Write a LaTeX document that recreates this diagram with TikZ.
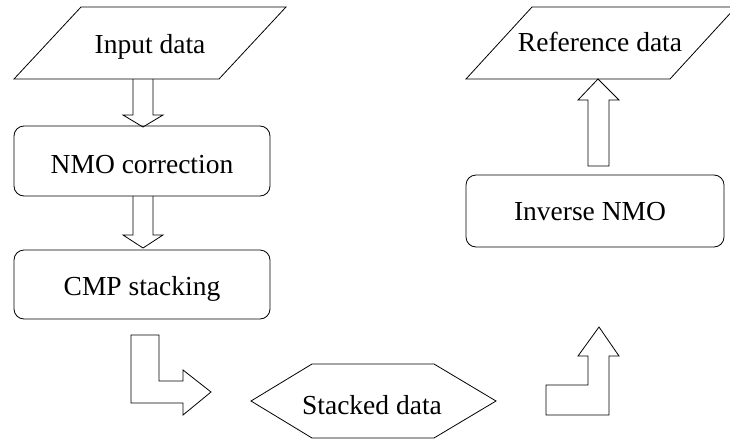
\documentclass[tikz,border=0pt]{standalone}
\usepackage{fontspec}
\setmainfont{Liberation Serif}
\begin{document}
\begin{tikzpicture}[x=1pt,y=-1pt,
  shapeline/.style={draw=black,line width=0.8pt,line join=miter},
  boxline/.style={shapeline,rounded corners=10pt},
  lbl/.style={anchor=base,inner sep=0pt,font=\fontsize{27.5}{30}\selectfont}]
\useasboundingbox (0,0) rectangle (730,439);
\begin{scope}
\clip (0,0) rectangle (730,439);
% Input data parallelogram
\draw[shapeline] (14,79) -- (219,79) -- (286,7) -- (81,7) -- cycle;
\node[lbl] (inp) at (150,53) {Input data};
% NMO correction
\draw[boxline] (14,126) rectangle (270,196);
\node[lbl] (nmo) at (142,173) {NMO correction};
% CMP stacking
\draw[boxline] (14,250) rectangle (270,319);
\node[lbl] (cmp) at (142,295) {CMP stacking};
% Arrow 1
\draw[shapeline] (133,79) -- (133,115) -- (123,115) -- (143,127) -- (163,115) -- (153,115) -- (153,79);
% Arrow 2
\draw[shapeline] (133,196) -- (133,235) -- (123,235) -- (143,248) -- (163,235) -- (153,235) -- (153,196);
% L arrow (down then right)
\draw[shapeline] (131,335) -- (159,335) -- (159,381) -- (183,381) -- (183,370) -- (211,392) -- (183,415) -- (183,403) -- (131,403) -- cycle;
% Stacked data hexagon
\draw[shapeline] (251,401) -- (312,364) -- (434,364) -- (496,401) -- (434,438) -- (312,438) -- cycle;
\node[lbl] (stk) at (372,414) {Stacked data};
% L arrow (right then up)
\draw[shapeline] (546,385) -- (588,385) -- (588,356) -- (578,356) -- (599,327) -- (619,356) -- (609,356) -- (609,415) -- (546,415) -- cycle;
% Inverse NMO
\draw[boxline] (466,175) rectangle (724,247);
\node[lbl] (inv) at (590,220) {Inverse NMO};
% Up arrow
\draw[shapeline] (588,166) -- (588,100) -- (578,100) -- (598,79) -- (619,100) -- (609,100) -- (609,166) -- cycle;
% Reference data parallelogram
\draw[shapeline] (466,79) -- (670,79) -- (736,7) -- (532,7) -- cycle;
\node[lbl] (ref) at (600,51) {Reference data};
\end{scope}
\end{tikzpicture}
\end{document}
